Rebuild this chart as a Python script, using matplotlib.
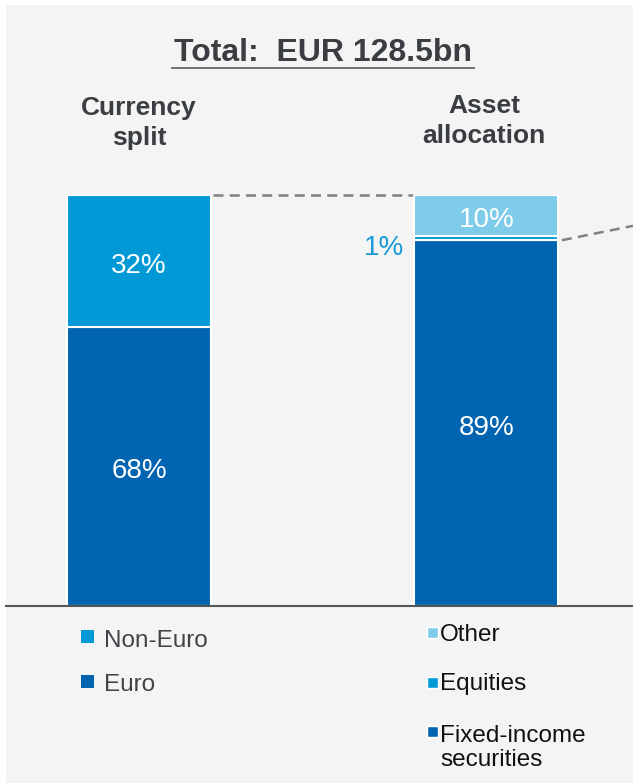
import matplotlib
matplotlib.use("Agg")
import matplotlib.pyplot as plt
from matplotlib.patches import Rectangle
from matplotlib.lines import Line2D
from matplotlib.transforms import offset_copy

plt.rcParams["font.family"] = ["Liberation Sans", "DejaVu Sans"]

# ---- data -------------------------------------------------------------
title = "Total:  EUR 128.5bn"
panel_titles = ["Currency\nsplit", "Asset\nallocation"]

currency_labels = ["Euro", "Non-Euro"]          # bottom -> top
currency_values = [68, 32]

asset_labels = ["Fixed-income\nsecurities", "Equities", "Other"]   # bottom -> top
asset_values = [89, 1, 10]

C_DARK = "#0064b0"
C_MID = "#0099d6"
C_LIGHT = "#7fcbea"
currency_colors = [C_DARK, C_MID]
asset_colors = [C_DARK, C_MID, C_LIGHT]

TEXT_DARK = "#3a3d41"
BG = "#f4f4f4"

# ---- figure ------------------------------------------------------------
W, H = 633, 783
fig = plt.figure(figsize=(W / 100, H / 100), dpi=100, facecolor="white")


def fx(x):
    return x / W


def fy(y):
    return 1 - y / H


fig.patches.append(Rectangle((fx(6), 0), 1 - fx(6), fy(5), transform=fig.transFigure,
                             facecolor=BG, edgecolor="none", zorder=-10))

ax = fig.add_axes([fx(6), fy(606), 1 - fx(6), (606 - 195) / H])
ax.set_zorder(1)
ax.set_facecolor("none")
ax.set_xlim(-0.3827, 1.4216)
ax.set_ylim(0, 100)
bar_w = 0.4144

for s in ["top", "left", "right"]:
    ax.spines[s].set_visible(False)
ax.spines["bottom"].set_color("#555555")
ax.spines["bottom"].set_linewidth(1.5)
ax.set_xticks([])
ax.set_yticks([])


def stacked(xpos, values, colors):
    bottom = 0
    containers = []
    for v, c in zip(values, colors):
        bc = ax.bar(xpos, v, width=bar_w, bottom=bottom, color=c,
                    edgecolor="white", linewidth=1.5, zorder=2)
        containers.append((bc, bottom, v))
        bottom += v
    return containers


cur_bars = stacked(0, currency_values, currency_colors)
ast_bars = stacked(1, asset_values, asset_colors)

# value labels inside segments (nudged slightly down to sit optically centred)
lbl_tr = offset_copy(ax.transData, fig=fig, x=0, y=-3.5, units="points")
for bc, b, v in cur_bars:
    ax.text(0, b + v / 2, f"{v}%", ha="center", va="center", color="white",
            fontsize=20, zorder=3, transform=lbl_tr)
for bc, b, v in ast_bars:
    if v >= 5:
        ax.text(1, b + v / 2, f"{v}%", ha="center", va="center", color="white",
                fontsize=20, zorder=3, transform=lbl_tr)
    else:
        ax.text(1 - bar_w / 2 - 0.03, b + v / 2 - 1.3, f"{v}%", ha="right",
                va="center", color="#1a9ad6", fontsize=20, zorder=3, transform=lbl_tr)

# connector lines
dash = (0, (4, 2.5))
ax.plot([bar_w / 2 + 0.005, 1 - bar_w / 2 - 0.005], [100, 100], color="#808080",
        lw=1.8, linestyle=dash, zorder=1, clip_on=False)
top_fixed = asset_values[0]
ax.plot([1 + bar_w / 2 + 0.01, 1.4216], [top_fixed, top_fixed + 3.5], color="#808080",
        lw=1.8, linestyle=dash, zorder=1, clip_on=False)

# titles
fig.text(fx(323), fy(61), title, ha="center", va="baseline", fontsize=23,
         fontweight="bold", color=TEXT_DARK)
fig.add_artist(Line2D([fx(172), fx(474)], [fy(68), fy(68)], color="#666666", lw=1.3,
                      transform=fig.transFigure))
fig.text(fx(139), fy(123), panel_titles[0], ha="center", va="center", fontsize=19,
         fontweight="bold", color=TEXT_DARK, linespacing=1.33)
fig.text(fx(484), fy(121), panel_titles[1], ha="center", va="center", fontsize=19,
         fontweight="bold", color=TEXT_DARK, linespacing=1.33)


# legends
def legend_entry(x_sq, size, y_center, color, x_text, y_base, label, tcolor, border):
    fig.patches.append(Rectangle((fx(x_sq), fy(y_center + size / 2)), size / W, size / H,
                                 transform=fig.transFigure, facecolor=color,
                                 edgecolor="white" if border else "none",
                                 linewidth=1.0 if border else 0, zorder=3))
    fig.text(fx(x_text), fy(y_base), label, ha="left", va="baseline", fontsize=17.5,
             color=tcolor, linespacing=1.1)


legend_entry(81, 13, 636, currency_colors[1], 104, 647, currency_labels[1], "#404448", False)
legend_entry(81, 13, 681, currency_colors[0], 104, 691, currency_labels[0], "#404448", False)

legend_entry(427, 11, 632, asset_colors[2], 440, 641, asset_labels[2], "#111111", True)
legend_entry(427, 11, 682, asset_colors[1], 440, 690, asset_labels[1], "#111111", True)
legend_entry(427, 11, 731, asset_colors[0], 440, 766, asset_labels[0], "#111111", True)

fig.savefig("out.png", dpi=100, facecolor=fig.get_facecolor())
